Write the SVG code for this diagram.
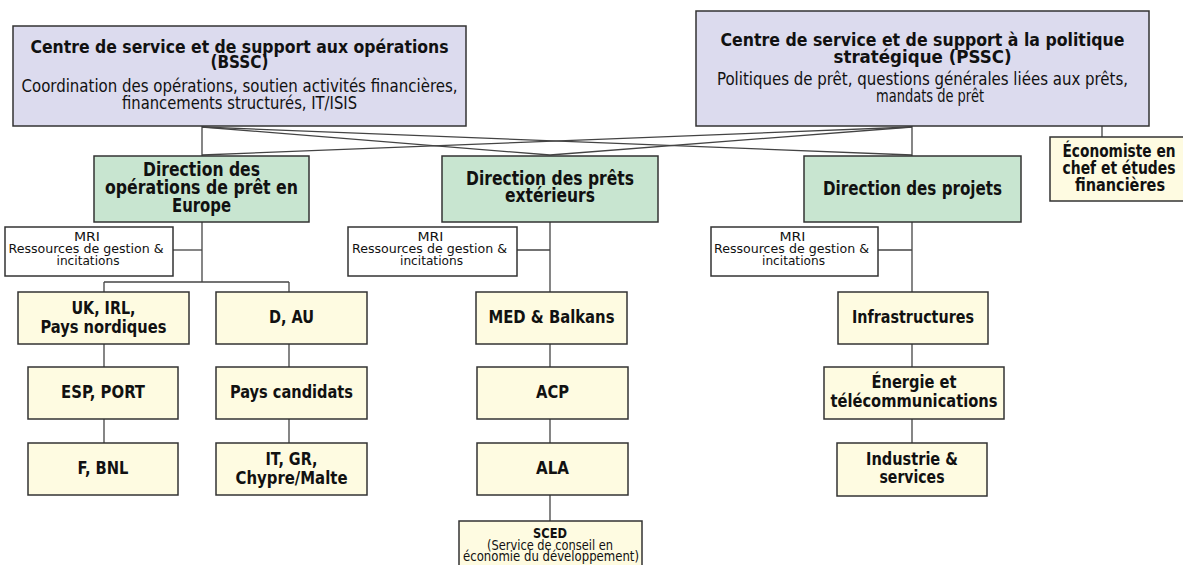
<svg xmlns="http://www.w3.org/2000/svg" width="1183" height="565" viewBox="0 0 1183 565">
<style>
.top{fill:#dcdbee;stroke:#333;stroke-width:1.5}
.dir{fill:#c8e5d0;stroke:#333;stroke-width:1.5}
.sub{fill:#fefbe1;stroke:#333;stroke-width:1.5}
.mri{fill:#fff;stroke:#333;stroke-width:1.5}
text{font-family:"DejaVu Sans","Liberation Sans",sans-serif;font-stretch:condensed;text-anchor:middle;fill:#111}
.b{font-weight:bold}
.h1{font-size:18px}
.h2{font-size:17px}
.d{font-size:19px}
.s{font-size:17px}
.m{font-size:13px}
.c{font-size:13.5px}
#connectors line{stroke:#444;stroke-width:1.3;fill:none}
</style>
<rect width="1183" height="565" fill="#fff"/>
<g id="connectors">
<line x1="202" y1="126" x2="202" y2="156"/>
<line x1="202" y1="127" x2="550" y2="155"/>
<line x1="202" y1="127" x2="912" y2="155"/>
<line x1="912" y1="127" x2="550" y2="155"/>
<line x1="912" y1="127" x2="202" y2="155"/>
<line x1="912" y1="126" x2="912" y2="156"/>
<line x1="1102" y1="126" x2="1102" y2="137"/>
<line x1="202" y1="222" x2="202" y2="282"/>
<line x1="173" y1="250" x2="202" y2="250"/>
<line x1="104" y1="282" x2="289" y2="282"/>
<line x1="104" y1="282" x2="104" y2="443"/>
<line x1="289" y1="282" x2="289" y2="443"/>
<line x1="550" y1="222" x2="550" y2="521"/>
<line x1="517" y1="250" x2="550" y2="250"/>
<line x1="912" y1="222" x2="912" y2="443"/>
<line x1="878" y1="250" x2="912" y2="250"/>
</g>
<g id="bssc">
<rect class="top" x="13" y="26" width="453" height="100"/>
<text class="b h1" x="239.5" y="53" textLength="418" lengthAdjust="spacingAndGlyphs">Centre de service et de support aux opérations</text>
<text class="b h1" x="239.5" y="68" textLength="58" lengthAdjust="spacingAndGlyphs">(BSSC)</text>
<text class="h2" x="239.5" y="92" textLength="436" lengthAdjust="spacingAndGlyphs">Coordination des opérations, soutien activités financières,</text>
<text class="h2" x="239.5" y="109" textLength="235" lengthAdjust="spacingAndGlyphs">financements structurés, IT/ISIS</text>
</g>
<g id="pssc">
<rect class="top" x="696" y="11" width="453" height="115"/>
<text class="b h1" x="922.5" y="46" textLength="404" lengthAdjust="spacingAndGlyphs">Centre de service et de support à la politique</text>
<text class="b h1" x="922.5" y="63" textLength="178" lengthAdjust="spacingAndGlyphs">stratégique (PSSC)</text>
<text class="h2" x="922.5" y="85" textLength="411" lengthAdjust="spacingAndGlyphs">Politiques de prêt, questions générales liées aux prêts,</text>
<text class="h2" x="930" y="102" textLength="108" lengthAdjust="spacingAndGlyphs">mandats de prêt</text>
</g>
<g id="economiste">
<rect class="sub" x="1050" y="137" width="142" height="64"/>
<text class="b s" x="1119" y="157" textLength="113" lengthAdjust="spacingAndGlyphs">Économiste en</text>
<text class="b s" x="1119" y="174" textLength="113" lengthAdjust="spacingAndGlyphs">chef et études</text>
<text class="b s" x="1120" y="191" textLength="90" lengthAdjust="spacingAndGlyphs">financières</text>
</g>
<g id="dir-europe">
<rect class="dir" x="94" y="156" width="215" height="66"/>
<text class="b d" x="201.5" y="176" textLength="117" lengthAdjust="spacingAndGlyphs">Direction des</text>
<text class="b d" x="201.5" y="194" textLength="193" lengthAdjust="spacingAndGlyphs">opérations de prêt en</text>
<text class="b d" x="201.5" y="212" textLength="59" lengthAdjust="spacingAndGlyphs">Europe</text>
</g>
<g id="dir-ext">
<rect class="dir" x="442" y="156" width="216" height="66"/>
<text class="b d" x="550" y="185" textLength="168" lengthAdjust="spacingAndGlyphs">Direction des prêts</text>
<text class="b d" x="550" y="202" textLength="90" lengthAdjust="spacingAndGlyphs">extérieurs</text>
</g>
<g id="dir-projets">
<rect class="dir" x="804" y="156" width="217" height="66"/>
<text class="b d" x="912.5" y="195" textLength="179" lengthAdjust="spacingAndGlyphs">Direction des projets</text>
</g>
<g id="mri1">
<rect class="mri" x="5" y="227" width="168" height="49"/>
<text class="m" x="87" y="241" textLength="26" lengthAdjust="spacingAndGlyphs">MRI</text>
<text class="m" x="86" y="253" textLength="155" lengthAdjust="spacingAndGlyphs">Ressources de gestion &amp;</text>
<text class="m" x="88" y="265" textLength="63" lengthAdjust="spacingAndGlyphs">incitations</text>
</g>
<g id="mri2">
<rect class="mri" x="348" y="227" width="169" height="49"/>
<text class="m" x="430.5" y="241" textLength="26" lengthAdjust="spacingAndGlyphs">MRI</text>
<text class="m" x="429.5" y="253" textLength="155" lengthAdjust="spacingAndGlyphs">Ressources de gestion &amp;</text>
<text class="m" x="431.5" y="265" textLength="63" lengthAdjust="spacingAndGlyphs">incitations</text>
</g>
<g id="mri3">
<rect class="mri" x="711" y="227" width="167" height="49"/>
<text class="m" x="792.5" y="241" textLength="26" lengthAdjust="spacingAndGlyphs">MRI</text>
<text class="m" x="791.5" y="253" textLength="155" lengthAdjust="spacingAndGlyphs">Ressources de gestion &amp;</text>
<text class="m" x="793.5" y="265" textLength="63" lengthAdjust="spacingAndGlyphs">incitations</text>
</g>
<g id="uk">
<rect class="sub" x="18" y="292" width="171" height="52"/>
<text class="b s" x="103.5" y="314" textLength="64" lengthAdjust="spacingAndGlyphs">UK, IRL,</text>
<text class="b s" x="103.5" y="333" textLength="126" lengthAdjust="spacingAndGlyphs">Pays nordiques</text>
</g>
<g id="dau">
<rect class="sub" x="216" y="292" width="151" height="52"/>
<text class="b s" x="291.5" y="323" textLength="45" lengthAdjust="spacingAndGlyphs">D, AU</text>
</g>
<g id="esp">
<rect class="sub" x="28" y="367" width="150" height="52"/>
<text class="b s" x="103" y="398" textLength="84" lengthAdjust="spacingAndGlyphs">ESP, PORT</text>
</g>
<g id="candidats">
<rect class="sub" x="216" y="367" width="151" height="52"/>
<text class="b s" x="291.5" y="398" textLength="123" lengthAdjust="spacingAndGlyphs">Pays candidats</text>
</g>
<g id="fbnl">
<rect class="sub" x="28" y="443" width="150" height="52"/>
<text class="b s" x="103" y="474" textLength="51" lengthAdjust="spacingAndGlyphs">F, BNL</text>
</g>
<g id="itgr">
<rect class="sub" x="216" y="443" width="151" height="52"/>
<text class="b s" x="291.5" y="465" textLength="52" lengthAdjust="spacingAndGlyphs">IT, GR,</text>
<text class="b s" x="291.5" y="484" textLength="112" lengthAdjust="spacingAndGlyphs">Chypre/Malte</text>
</g>
<g id="med">
<rect class="sub" x="476" y="292" width="151" height="52"/>
<text class="b s" x="551.5" y="323" textLength="126" lengthAdjust="spacingAndGlyphs">MED &amp; Balkans</text>
</g>
<g id="acp">
<rect class="sub" x="477" y="367" width="151" height="52"/>
<text class="b s" x="552.5" y="398" textLength="33" lengthAdjust="spacingAndGlyphs">ACP</text>
</g>
<g id="ala">
<rect class="sub" x="477" y="443" width="151" height="52"/>
<text class="b s" x="552.5" y="474" textLength="33" lengthAdjust="spacingAndGlyphs">ALA</text>
</g>
<g id="sced">
<rect class="sub" x="459" y="521" width="183" height="60"/>
<text class="b c" x="550" y="538" textLength="34" lengthAdjust="spacingAndGlyphs">SCED</text>
<text class="c" x="550" y="550" textLength="126" lengthAdjust="spacingAndGlyphs">(Service de conseil en</text>
<text class="c" x="551" y="561" textLength="176" lengthAdjust="spacingAndGlyphs">économie du développement)</text>
</g>
<g id="infra">
<rect class="sub" x="838" y="292" width="150" height="52"/>
<text class="b s" x="913" y="323" textLength="122" lengthAdjust="spacingAndGlyphs">Infrastructures</text>
</g>
<g id="energie">
<rect class="sub" x="824" y="367" width="180" height="52"/>
<text class="b s" x="914" y="388" textLength="85" lengthAdjust="spacingAndGlyphs">Énergie et</text>
<text class="b s" x="914" y="407" textLength="167" lengthAdjust="spacingAndGlyphs">télécommunications</text>
</g>
<g id="industrie">
<rect class="sub" x="837" y="443" width="150" height="53"/>
<text class="b s" x="912" y="465" textLength="92" lengthAdjust="spacingAndGlyphs">Industrie &amp;</text>
<text class="b s" x="912" y="483" textLength="65" lengthAdjust="spacingAndGlyphs">services</text>
</g>
</svg>
